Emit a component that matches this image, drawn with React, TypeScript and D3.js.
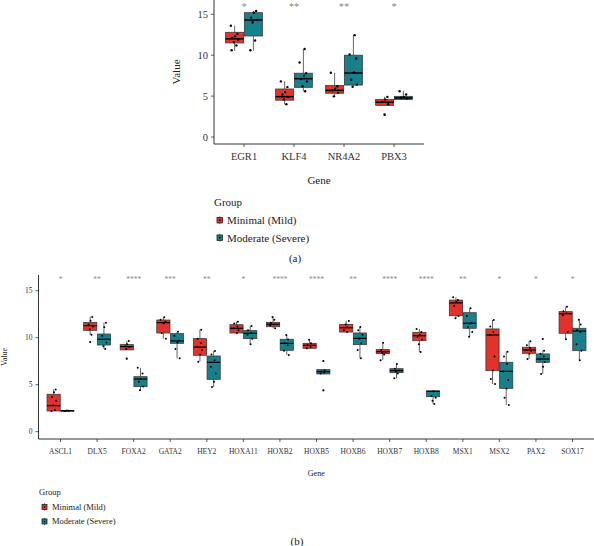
import React from "react";
import * as d3 from "d3";

// ---------- Panel (a) data ----------
const genesA = ["EGR1", "KLF4", "NR4A2", "PBX3"];
const sigA = ["*", "**", "**", "*"];
// [lowerWhisker, q1, median, q3, upperWhisker]
const mildBoxA = [
  [10.55, 11.5, 12.0, 12.8, 13.6],
  [4.0, 4.5, 4.93, 5.87, 6.8],
  [4.97, 5.35, 5.7, 6.3, 7.85],
  [3.87, 3.87, 4.25, 4.6, 4.93],
];
const severeBoxA = [
  [10.55, 12.35, 14.3, 15.2, 15.4],
  [5.6, 6.07, 7.13, 7.8, 10.75],
  [6.15, 6.35, 7.82, 10.0, 12.45],
  [4.6, 4.6, 4.77, 4.97, 5.66],
];
const mildOutA = [[], [], [], [2.73]];
const severeOutA = [[], [], [], []];
const mildPtsA = [
  [10.6, 11.2, 11.6, 11.9, 12.1, 12.3, 12.6, 13.6],
  [4.0, 4.6, 4.9, 5.2, 5.5, 6.1, 6.8],
  [4.97, 5.4, 5.7, 5.9, 6.2, 7.85],
  [4.0, 4.3, 4.6, 4.9],
];
const severePtsA = [
  [10.6, 11.8, 14.0, 14.3, 14.6, 15.2, 15.4],
  [5.6, 6.2, 6.8, 7.1, 7.5, 7.8, 9.1, 10.75],
  [6.15, 6.4, 7.0, 7.9, 9.6, 10.1, 12.45],
  [4.7, 4.8, 4.9, 5.2, 5.6],
];
const yTicksA = [0, 5, 10, 15];

// ---------- Panel (b) data ----------
const genesB = ["ASCL1", "DLX5", "FOXA2", "GATA2", "HEY2", "HOXA11", "HOXB2", "HOXB5", "HOXB6", "HOXB7", "HOXB8", "MSX1", "MSX2", "PAX2", "SOX17"];
const sigB = ["*", "**", "****", "***", "**", "*", "****", "****", "**", "****", "****", "**", "*", "*", "*"];
const mildBoxB = [
  [2.2, 2.2, 2.77, 3.98, 4.5],
  [10.3, 10.78, 11.28, 11.63, 12.23],
  [8.7, 8.7, 9.05, 9.26, 9.65],
  [9.9, 10.5, 11.6, 11.88, 12.17],
  [7.45, 8.13, 9.0, 9.9, 10.85],
  [10.5, 10.5, 11.0, 11.38, 11.7],
  [11.0, 11.17, 11.42, 11.63, 12.2],
  [8.87, 8.87, 9.19, 9.4, 9.79],
  [10.6, 10.6, 11.06, 11.42, 11.78],
  [7.6, 8.3, 8.51, 8.73, 9.47],
  [8.48, 9.68, 10.21, 10.57, 10.93],
  [12.06, 12.34, 13.7, 14.0, 14.3],
  [5.07, 6.49, 10.29, 10.93, 11.88],
  [7.73, 8.34, 8.69, 8.98, 9.62],
  [9.83, 10.47, 12.55, 12.77, 13.3],
];
const severeBoxB = [
  [2.2, 2.2, 2.23, 2.26, 2.26],
  [8.8, 9.22, 9.83, 10.39, 11.6],
  [4.4, 4.79, 5.6, 5.85, 6.8],
  [7.8, 9.4, 9.65, 10.43, 10.64],
  [4.75, 5.57, 7.38, 8.05, 8.58],
  [9.3, 9.9, 10.47, 10.75, 11.25],
  [8.16, 8.66, 9.4, 9.83, 10.29],
  [6.14, 6.14, 6.38, 6.6, 6.6],
  [7.8, 9.26, 9.93, 10.5, 11.14],
  [5.68, 6.28, 6.49, 6.7, 7.2],
  [2.95, 3.72, 4.3, 4.33, 4.33],
  [10.1, 11.0, 11.53, 12.66, 13.12],
  [2.84, 4.61, 6.42, 7.38, 8.51],
  [6.14, 7.38, 7.73, 8.27, 8.62],
  [7.6, 8.62, 10.71, 11.0, 11.91],
];
const mildOutB = [[], [9.54], [7.77], [], [], [], [], [], [], [], [], [], [], [], []];
const severeOutB = [[], [], [], [], [], [], [], [7.52, 4.4], [], [], [], [], [], [9.86], []];
const mildPtsB = [
  [2.2, 2.3, 2.8, 3.3, 3.7, 4.2, 4.5],
  [10.3, 10.9, 11.2, 11.4, 11.8, 12.2],
  [8.8, 9.0, 9.1, 9.3, 9.65],
  [9.9, 10.5, 11.5, 11.7, 11.9, 12.17],
  [7.45, 8.2, 8.7, 9.0, 9.4, 9.9, 10.85],
  [10.5, 10.8, 11.0, 11.2, 11.5, 11.7],
  [11.0, 11.3, 11.4, 11.6, 11.9, 12.2],
  [8.87, 9.0, 9.2, 9.4, 9.79],
  [10.6, 10.8, 11.1, 11.4, 11.78],
  [7.6, 8.2, 8.4, 8.5, 8.7, 9.47],
  [8.48, 9.3, 9.8, 10.1, 10.3, 10.6, 10.93],
  [12.06, 12.3, 13.4, 13.8, 14.0, 14.3],
  [5.07, 5.6, 6.5, 8.0, 10.3, 10.6, 11.2, 11.88],
  [7.73, 8.3, 8.6, 8.7, 8.9, 9.2, 9.62],
  [9.83, 10.6, 12.4, 12.6, 12.8, 13.3],
];
const severePtsB = [
  [2.2, 2.22, 2.24],
  [8.8, 9.1, 9.5, 10.2, 11.1, 11.6],
  [4.4, 4.8, 5.3, 5.6, 6.2, 6.8],
  [7.8, 8.8, 9.5, 9.7, 10.2, 10.64],
  [4.75, 5.3, 6.2, 6.9, 7.6, 8.2, 8.58],
  [9.3, 9.9, 10.3, 10.5, 10.8, 11.25],
  [8.16, 8.6, 9.2, 9.4, 9.8, 10.29],
  [6.2, 6.3, 6.4, 6.5],
  [7.8, 8.7, 9.4, 9.9, 10.3, 10.8, 11.14],
  [5.68, 6.2, 6.4, 6.5, 6.7, 7.2],
  [2.95, 3.3, 3.6, 3.8, 4.3],
  [10.1, 10.6, 11.1, 11.5, 11.6, 12.3, 13.12],
  [2.84, 3.6, 4.6, 5.5, 6.4, 7.2, 8.0, 8.51],
  [6.14, 6.9, 7.4, 7.7, 8.0, 8.3, 8.62],
  [7.6, 8.6, 9.3, 10.6, 10.8, 11.4, 11.91],
];
const yTicksB = [0, 5, 10, 15];

const groups = ["Minimal (Mild)", "Moderate (Severe)"];
const colors = ["#e2332b", "#187f8b"];
const FONT = "'Liberation Serif', 'DejaVu Serif', serif";
const JIT = [-0.6, 0.35, -0.15, 0.7, -0.45, 0.1, 0.55, -0.75, 0.25];

type PanelProps = {
  genes: string[];
  sig: string[];
  boxes: number[][][];
  outs: number[][][];
  pts: number[][][];
  yTicks: number[];
  xRange: [number, number];
  axisX: [number, number];
  yDomain: [number, number];
  yRange: [number, number];
  sigY: number;
  tickFont: number;
  labelFont: number;
  valueX: number;
  geneY: number;
  tickLabelY: number;
  ptR: number;
  medW: number;
};

function Panel(p: PanelProps) {
  const x = d3.scalePoint<string>().domain(p.genes).range(p.xRange);
  const step = x.step();
  const y = d3.scaleLinear().domain(p.yDomain).range(p.yRange);
  const bw = step * 0.36;
  const off = step * 0.1875;
  const x0 = p.axisX[0];
  const yBottom = p.yRange[0];
  const yTop = p.yRange[1];
  return (
    <g>
      {p.genes.map((g, i) => (
        <text key={"s" + g} x={x(g)} y={p.sigY} textAnchor="middle" fontSize={p.tickFont} fill="#888" fontFamily={FONT}>
          {p.sig[i]}
        </text>
      ))}
      {p.genes.map((g, i) =>
        [0, 1].map((k) => {
          const b = p.boxes[k][i];
          const cx = (x(g) as number) + (k === 0 ? -off : off);
          return (
            <g key={g + k}>
              <line x1={cx} x2={cx} y1={y(b[4])} y2={y(b[3])} stroke="#222" strokeWidth={0.7} />
              <line x1={cx} x2={cx} y1={y(b[1])} y2={y(b[0])} stroke="#222" strokeWidth={0.7} />
              <rect x={cx - bw / 2} width={bw} y={y(b[3])} height={Math.max(0.8, y(b[1]) - y(b[3]))} fill={colors[k]} stroke="#3a3a3a" strokeWidth={0.8} />
              <line x1={cx - bw / 2} x2={cx + bw / 2} y1={y(b[2])} y2={y(b[2])} stroke="#000" strokeWidth={p.medW} />
              {p.outs[k][i].map((v, j) => (
                <circle key={"o" + j} cx={cx} cy={y(v)} r={p.ptR * 1.1} fill="#000" />
              ))}
              {p.pts[k][i].map((v, j) => (
                <circle key={"p" + j} cx={cx + JIT[(j + i) % JIT.length] * bw * 0.28} cy={y(v)} r={p.ptR} fill="#000" />
              ))}
            </g>
          );
        })
      )}
      {/* axes */}
      <line x1={x0} x2={x0} y1={yTop} y2={yBottom} stroke="#333" strokeWidth={1} />
      <line x1={x0} x2={p.axisX[1]} y1={yBottom} y2={yBottom} stroke="#333" strokeWidth={1} />
      {p.yTicks.map((t) => (
        <g key={"yt" + t}>
          <line x1={x0 - 3} x2={x0} y1={y(t)} y2={y(t)} stroke="#333" strokeWidth={0.8} />
          <text x={x0 - 6} y={y(t)} dy="0.35em" textAnchor="end" fontSize={p.tickFont} fill="#333" fontFamily={FONT}>
            {t}
          </text>
        </g>
      ))}
      {p.genes.map((g) => (
        <g key={"xt" + g}>
          <line x1={x(g)} x2={x(g)} y1={yBottom} y2={yBottom + 3} stroke="#333" strokeWidth={0.8} />
          <text x={x(g)} y={p.tickLabelY} textAnchor="middle" fontSize={p.tickFont} fill="#333" fontFamily={FONT}>
            {g}
          </text>
        </g>
      ))}
      <text x={(p.axisX[0] + p.axisX[1]) / 2} y={p.geneY} textAnchor="middle" fontSize={p.labelFont} fill="#222" fontFamily={FONT}>
        Gene
      </text>
      <text
        transform={`translate(${p.valueX},${(yTop + yBottom) / 2}) rotate(-90)`}
        textAnchor="middle"
        fontSize={p.labelFont}
        fill="#222"
        fontFamily={FONT}
      >
        Value
      </text>
    </g>
  );
}

function Legend({ x, y, gap, font, size }: { x: number; y: number; gap: number; font: number; size: number }) {
  return (
    <g>
      <text x={x} y={y} fontSize={font} fill="#222" fontFamily={FONT}>Group</text>
      {groups.map((g, i) => {
        const cy = y + gap * (i + 1) - font * 0.3;
        return (
          <g key={g}>
            <line x1={x + 3 + size / 2} x2={x + 3 + size / 2} y1={cy - size / 2 - 1.2} y2={cy + size / 2 + 1.2} stroke="#222" strokeWidth={0.7} />
            <rect x={x + 3} y={cy - size / 2} width={size} height={size} fill={colors[i]} stroke="#222" strokeWidth={0.8} />
            <circle cx={x + 3 + size / 2} cy={cy} r={size * 0.16} fill="#000" />
            <text x={x + 13} y={cy} dy="0.35em" fontSize={font} fill="#222" fontFamily={FONT}>{g}</text>
          </g>
        );
      })}
    </g>
  );
}

export default function App() {
  return (
    <svg width={594} height={546} style={{ position: "absolute", left: 0, top: 0, background: "#fff" }}>
      <Panel
        genes={genesA}
        sig={sigA}
        boxes={[mildBoxA, severeBoxA]}
        outs={[mildOutA, severeOutA]}
        pts={[mildPtsA, severePtsA]}
        yTicks={yTicksA}
        xRange={[244, 394]}
        axisX={[214, 424]}
        yDomain={[-0.856, 16.75]}
        yRange={[144, 0]}
        sigY={10}
        tickFont={10.5}
        labelFont={11}
        valueX={180}
        geneY={184}
        tickLabelY={160}
        ptR={1.2}
        medW={1.5}
      />
      <Legend x={214} y={206} gap={17.5} font={11} size={5.5} />
      <text x={295} y={262} textAnchor="middle" fontSize={11} fill="#222" fontFamily={FONT}>(a)</text>

      <Panel
        genes={genesB}
        sig={sigB}
        boxes={[mildBoxB, severeBoxB]}
        outs={[mildOutB, severeOutB]}
        pts={[mildPtsB, severePtsB]}
        yTicks={yTicksB}
        xRange={[60.5, 572.5]}
        axisX={[38.5, 594]}
        yDomain={[-0.78, 16.67]}
        yRange={[439, 275]}
        sigY={282}
        tickFont={7.5}
        labelFont={8}
        valueX={7}
        geneY={476}
        tickLabelY={454}
        ptR={1}
        medW={1.2}
      />
      <Legend x={39} y={495} gap={14.5} font={8.5} size={5} />
      <text x={297} y={545} textAnchor="middle" fontSize={11} fill="#222" fontFamily={FONT}>(b)</text>
    </svg>
  );
}
